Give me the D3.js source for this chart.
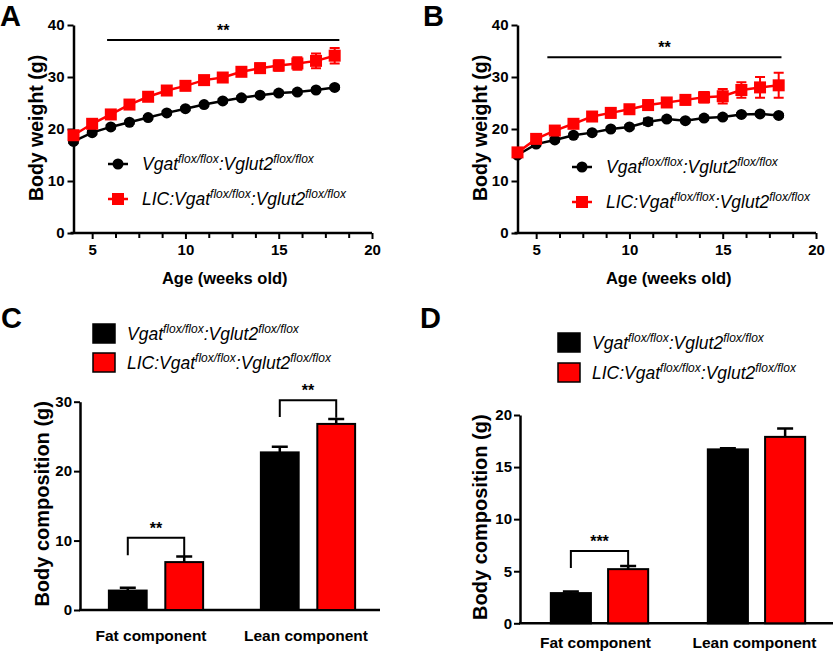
<!DOCTYPE html>
<html>
<head>
<meta charset="utf-8">
<script src="https://cdn.jsdelivr.net/npm/d3@7"></script>
<style>
  body { margin: 0; background: #fff; }
  svg { display: block; font-family: "Liberation Sans", Arial, sans-serif; }
  .tick text { font-weight: bold; font-size: 15px; }
</style>
</head>
<body>
<svg id="fig" width="837" height="652"></svg>
<script>
// body weight time course (weeks 4-18)
const weeks = [4, 5, 6, 7, 8, 9, 10, 11, 12, 13, 14, 15, 16, 17, 18];

const aControl    = [17.6, 19.3, 20.4, 21.3, 22.2, 23.1, 23.9, 24.7, 25.4, 26.0, 26.5, 26.9, 27.1, 27.5, 28.0];
const aControlErr = [0.3, 0.3, 0.3, 0.3, 0.3, 0.3, 0.3, 0.3, 0.3, 0.3, 0.3, 0.3, 0.3, 0.3, 0.3];
const aLIC        = [18.8, 21.0, 22.8, 24.7, 26.2, 27.4, 28.3, 29.4, 29.9, 31.0, 31.7, 32.2, 32.6, 33.1, 34.1];
const aLICErr     = [0.5, 0.5, 0.6, 0.6, 0.6, 0.6, 0.7, 0.8, 0.8, 0.8, 0.9, 1.0, 1.2, 1.4, 1.5];

const bControl    = [15.0, 17.1, 17.9, 18.8, 19.3, 20.0, 20.4, 21.4, 21.9, 21.6, 22.1, 22.3, 22.8, 22.9, 22.6];
const bControlErr = [0.3, 0.3, 0.3, 0.3, 0.3, 0.3, 0.3, 0.6, 0.3, 0.3, 0.3, 0.3, 0.3, 0.3, 0.3];
const bLIC        = [15.5, 18.1, 19.7, 21.0, 22.4, 23.1, 23.8, 24.6, 25.1, 25.6, 26.1, 26.3, 27.5, 28.0, 28.4];
const bLICErr     = [0.5, 0.5, 0.6, 0.7, 0.7, 0.9, 0.8, 0.9, 0.8, 0.9, 1.0, 1.4, 1.5, 2.0, 2.4];

// body composition
const components = ["Fat component", "Lean component"];
const cControl    = [2.8, 22.7];
const cControlErr = [0.4, 0.8];
const cLIC        = [6.9, 26.8];
const cLICErr     = [0.8, 0.7];

const dControl    = [2.9, 16.7];
const dControlErr = [0.15, 0.1];
const dLIC        = [5.2, 17.9];
const dLICErr     = [0.3, 0.8];

const xTicksWeeks = [5, 10, 15, 20];
const cTicks = [0, 10, 20, 30];
const dTicks = [0, 5, 10, 15, 20];

const RED = "#ff0000";
const svg = d3.select("#fig");

function legendLabel(sel, prefix) {
  sel.append("tspan").text(prefix + "Vgat");
  sel.append("tspan").attr("dy", -7).attr("font-size", 12).text("flox/flox");
  sel.append("tspan").attr("dy", 7).text(":Vglut2");
  sel.append("tspan").attr("dy", -7).attr("font-size", 12).text("flox/flox");
}

function panelLetter(x, y, s) {
  svg.append("text").attr("x", x).attr("y", y)
    .attr("font-size", 29).attr("font-weight", "bold").text(s);
}

function linePanel(o) {
  const x = d3.scaleLinear().domain([4, 20]).range([o.left, o.right]);
  const y = d3.scaleLinear().domain([0, 40]).range([o.bottom, o.top]);
  const g = svg.append("g");

  // axes
  const xa = g.append("g").attr("transform", `translate(0,${o.bottom})`)
    .call(d3.axisBottom(x).tickValues(xTicksWeeks).tickSize(6).tickPadding(5).tickFormat(d3.format("d")));
  g.append("g").attr("transform", `translate(0,${o.bottom})`)
    .call(d3.axisBottom(x).tickValues(d3.range(5, 20, 1.25).filter(v => v % 5 !== 0)).tickSize(5).tickFormat(""))
    .call(s => s.select(".domain").remove())
    .selectAll("line").attr("stroke-width", 2);
  xa.select(".domain").attr("stroke-width", 2.5).attr("d", `M${o.left - 3},0H${o.right}`);
  xa.selectAll(".tick line").attr("stroke-width", 2);
  const ya = g.append("g").attr("transform", `translate(${o.left},0)`)
    .call(d3.axisLeft(y).ticks(4).tickSize(6).tickPadding(3).tickSizeOuter(0));
  ya.select(".domain").attr("stroke-width", 2.5);
  ya.selectAll(".tick line").attr("stroke-width", 2);
  g.selectAll(".tick text").attr("fill", "#000");

  // titles
  g.append("text").attr("x", (x(4) + x(20)) / 2 + 2).attr("y", o.bottom + 51)
    .attr("text-anchor", "middle").attr("font-weight", "bold").attr("font-size", 16.5)
    .text("Age (weeks old)");
  g.append("text").attr("transform", `translate(${o.left - 31},${(o.top + o.bottom) / 2 - 1}) rotate(-90)`)
    .attr("text-anchor", "middle").attr("font-weight", "bold").attr("font-size", 19.5)
    .text("Body weight (g)");

  // significance
  g.append("line").attr("x1", x(o.sig[0])).attr("x2", x(o.sig[1]))
    .attr("y1", y(o.sig[2])).attr("y2", y(o.sig[2])).attr("stroke", "#000").attr("stroke-width", 2);
  g.append("text").attr("x", (x(o.sig[0]) + x(o.sig[1])) / 2).attr("y", y(o.sig[2]) - 4)
    .attr("text-anchor", "middle").attr("font-weight", "bold").attr("font-size", 16).text("**");

  const series = [
    { v: o.ctrl, e: o.ctrlErr, color: "#000", shape: "circle" },
    { v: o.lic, e: o.licErr, color: RED, shape: "square" }
  ];
  const line = d3.line().x((d, i) => x(weeks[i])).y(d => y(d));
  series.forEach(s => {
    const sg = g.append("g");
    sg.append("path").attr("d", line(s.v)).attr("fill", "none")
      .attr("stroke", s.color).attr("stroke-width", 2.5);
    const pts = weeks.map((w, i) => ({ w, v: s.v[i], e: s.e[i] }));
    sg.selectAll("path.err").data(pts).join("path").attr("class", "err")
      .attr("d", d => `M${x(d.w) - 5},${y(d.v + d.e)}H${x(d.w) + 5}M${x(d.w)},${y(d.v + d.e)}V${y(d.v - d.e)}M${x(d.w) - 5},${y(d.v - d.e)}H${x(d.w) + 5}`)
      .attr("stroke", s.color).attr("stroke-width", 2).attr("fill", "none");
    if (s.shape === "circle") {
      sg.selectAll("circle").data(pts).join("circle")
        .attr("cx", d => x(d.w)).attr("cy", d => y(d.v)).attr("r", 5.5).attr("fill", s.color);
    } else {
      sg.selectAll("rect").data(pts).join("rect")
        .attr("x", d => x(d.w) - 6).attr("y", d => y(d.v) - 6)
        .attr("width", 12).attr("height", 12).attr("fill", s.color);
    }
  });

  // legend
  const lg = g.append("g").attr("transform", `translate(${o.legX},${o.legY})`);
  [["", "#000", "circle"], ["LIC:", RED, "square"]].forEach((d, i) => {
    const r = lg.append("g").attr("transform", `translate(0,${i * 35})`);
    r.append("line").attr("x1", 0).attr("x2", 20).attr("stroke", d[1]).attr("stroke-width", 2.5);
    if (d[2] === "circle") r.append("circle").attr("cx", 10).attr("r", 5.5).attr("fill", d[1]);
    else r.append("rect").attr("x", 4).attr("y", -6).attr("width", 12).attr("height", 12).attr("fill", d[1]);
    const t = r.append("text").attr("x", 34).attr("y", 6).attr("font-size", 17.5).attr("font-style", "italic");
    legendLabel(t, d[0]);
  });
}

function barPanel(o) {
  const x0 = d3.scaleBand().domain(components).range([o.bandL, o.bandR]).paddingInner(0.38).paddingOuter(0.19);
  const x1 = d3.scaleBand().domain([0, 1]).range([0, x0.bandwidth()]).paddingInner(o.inner);
  const y = d3.scaleLinear().domain([0, o.max]).range([o.bottom, o.top]);
  const g = svg.append("g");

  const ya = g.append("g").attr("transform", `translate(${o.left},0)`)
    .call(d3.axisLeft(y).tickValues(o.ticks).tickSize(6).tickPadding(2).tickSizeOuter(0));
  ya.select(".domain").attr("stroke-width", 2.5);
  ya.selectAll(".tick line").attr("stroke-width", 2);
  ya.selectAll(".tick text").attr("fill", "#000");
  g.append("line").attr("x1", o.left - 1).attr("x2", o.right).attr("y1", o.bottom).attr("y2", o.bottom)
    .attr("stroke", "#000").attr("stroke-width", 2.5);

  g.append("text").attr("transform", `translate(${o.left - o.titleDx},${(o.top + o.bottom) / 2 - 2}) rotate(-90)`)
    .attr("text-anchor", "middle").attr("font-weight", "bold").attr("font-size", 20)
    .text("Body composition (g)");
  g.selectAll("text.cat").data(components).join("text").attr("class", "cat")
    .attr("x", (d, i) => x0(d) + x0.bandwidth() / 2 - o.catShift[i]).attr("y", o.bottom + o.catDy)
    .attr("text-anchor", "middle").attr("font-weight", "bold").attr("font-size", 15.5).text(d => d);

  const bars = [];
  components.forEach((c, i) => {
    bars.push({ c, k: 0, v: o.ctrl[i], e: o.ctrlErr[i], fill: "#000" });
    bars.push({ c, k: 1, v: o.lic[i], e: o.licErr[i], fill: RED });
  });
  const bx = d => x0(d.c) + x1(d.k);
  g.selectAll("path.err").data(bars).join("path").attr("class", "err")
    .attr("d", d => `M${bx(d) + x1.bandwidth() / 2},${y(d.v)}V${y(d.v + d.e)}M${bx(d) + x1.bandwidth() / 2 - 8},${y(d.v + d.e)}h16`)
    .attr("stroke", "#000").attr("stroke-width", 2.5).attr("fill", "none");
  g.selectAll("rect.bar").data(bars).join("rect").attr("class", "bar")
    .attr("x", bx).attr("y", d => y(d.v)).attr("width", x1.bandwidth())
    .attr("height", d => y(0) - y(d.v)).attr("fill", d => d.fill)
    .attr("stroke", "#000").attr("stroke-width", 2);

  // significance brackets
  o.sig.forEach(s => {
    const xa = x0(s.c) + x1(0) + x1.bandwidth() / 2;
    const xb = x0(s.c) + x1(1) + x1.bandwidth() / 2;
    g.append("path").attr("d", `M${xa},${y(s.l)}V${y(s.top)}H${xb}V${y(s.r)}`)
      .attr("fill", "none").attr("stroke", "#000").attr("stroke-width", 2);
    g.append("text").attr("x", (xa + xb) / 2).attr("y", y(s.top) - 4)
      .attr("text-anchor", "middle").attr("font-weight", "bold").attr("font-size", 16).text(s.mark);
  });

  const lg = g.append("g").attr("transform", `translate(${o.legX},${o.legY})`);
  [["", "#000"], ["LIC:", RED]].forEach((d, i) => {
    const r = lg.append("g").attr("transform", `translate(0,${i * o.legGap})`);
    r.append("rect").attr("x", 0).attr("y", 0).attr("width", 22).attr("height", 19)
      .attr("fill", d[1]).attr("stroke", "#000").attr("stroke-width", 1.5);
    const t = r.append("text").attr("x", 34).attr("y", 16).attr("font-size", 17.5).attr("font-style", "italic");
    legendLabel(t, d[0]);
  });
}

panelLetter(0, 26, "A");
panelLetter(423, 26, "B");
panelLetter(1, 328, "C");
panelLetter(420, 328, "D");

linePanel({ left: 73.5, right: 372, top: 25, bottom: 233, ctrl: aControl, ctrlErr: aControlErr,
  lic: aLIC, licErr: aLICErr, sig: [5.8, 18.25, 37.1], legX: 108, legY: 164 });
linePanel({ left: 517.5, right: 816, top: 25, bottom: 233, ctrl: bControl, ctrlErr: bControlErr,
  lic: bLIC, licErr: bLICErr, sig: [5.6, 18.15, 33.8], legX: 572, legY: 167 });

barPanel({ left: 80, right: 380, top: 401.7, bottom: 610, max: 30, ticks: cTicks,
  bandL: 80, bandR: 384, inner: 0.33, catDy: 31, catShift: [5, 2], titleDx: 31,
  ctrl: cControl, ctrlErr: cControlErr, lic: cLIC, licErr: cLICErr,
  sig: [{ c: "Fat component", l: 7.9, r: 7.6, top: 10.4, mark: "**" },
        { c: "Lean component", l: 27.8, r: 27.7, top: 30.2, mark: "**" }],
  legX: 93, legY: 324, legGap: 29 });
barPanel({ left: 520, right: 833, top: 415, bottom: 623.3, max: 20, ticks: dTicks,
  bandL: 521, bandR: 835, inner: 0.3, catDy: 25, catShift: [4, 2], titleDx: 33,
  ctrl: dControl, ctrlErr: dControlErr, lic: dLIC, licErr: dLICErr,
  sig: [{ c: "Fat component", l: 5.3, r: 5.3, top: 6.95, mark: "***" }],
  legX: 558, legY: 333, legGap: 30 });
</script>
</body>
</html>
